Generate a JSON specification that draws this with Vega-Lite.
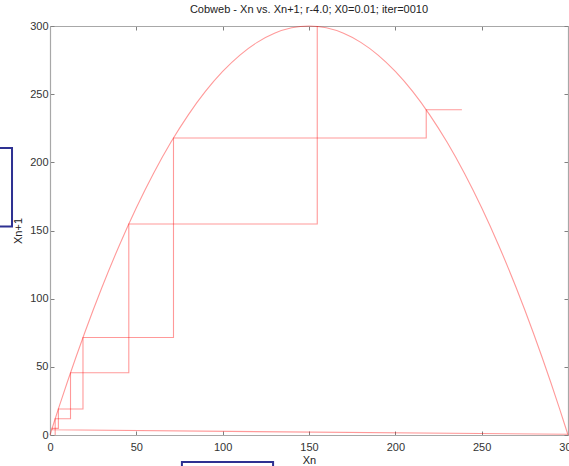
{
  "$schema": "https://vega.github.io/schema/vega-lite/v6.json",
  "width": 518,
  "height": 409,
  "autosize": {"type": "none"},
  "padding": {"left": 50, "top": 26, "right": 1, "bottom": 31},
  "background": "white",
  "config": {
    "view": {"stroke": null},
    "font": "Liberation Sans",
    "axis": {
      "grid": false,
      "domainColor": "#a8a8a8",
      "domainWidth": 1.2,
      "tickColor": "#808080",
      "tickSize": -4,
      "labelFont": "Liberation Sans",
      "labelFontSize": 11,
      "labelColor": "#333333",
      "titleFont": "Liberation Sans",
      "titleFontSize": 11,
      "titleFontWeight": "normal",
      "titleColor": "#222222"
    }
  },
  "title": {
    "text": "Cobweb - Xn vs. Xn+1; r-4.0; X0=0.01; iter=0010",
    "fontSize": 11,
    "fontWeight": "normal",
    "font": "Liberation Sans",
    "color": "#222222",
    "offset": 5
  },
  "datasets": {
    "curve": [
      {"x": 0, "y": 0}, {"x": 2.5, "y": 9.917}, {"x": 5, "y": 19.667}, {"x": 10, "y": 38.667},
      {"x": 20, "y": 74.667}, {"x": 30, "y": 108}, {"x": 40, "y": 138.667}, {"x": 50, "y": 166.667},
      {"x": 60, "y": 192}, {"x": 70, "y": 214.667}, {"x": 80, "y": 234.667}, {"x": 90, "y": 252},
      {"x": 100, "y": 266.667}, {"x": 110, "y": 278.667}, {"x": 120, "y": 288}, {"x": 130, "y": 294.667},
      {"x": 140, "y": 298.667}, {"x": 150, "y": 300}, {"x": 160, "y": 298.667}, {"x": 170, "y": 294.667},
      {"x": 180, "y": 288}, {"x": 190, "y": 278.667}, {"x": 200, "y": 266.667}, {"x": 210, "y": 252},
      {"x": 220, "y": 234.667}, {"x": 230, "y": 214.667}, {"x": 240, "y": 192}, {"x": 250, "y": 166.667},
      {"x": 260, "y": 138.667}, {"x": 270, "y": 108}, {"x": 280, "y": 74.667}, {"x": 290, "y": 38.667},
      {"x": 295, "y": 19.667}, {"x": 297.5, "y": 9.917}, {"x": 300, "y": 0}
    ],
    "cobweb": [
      {"seg": "a", "i": 1, "x": 3, "y": 0},
      {"seg": "a", "i": 2, "x": 3, "y": 11.88},
      {"seg": "a", "i": 3, "x": 11.88, "y": 11.88},
      {"seg": "a", "i": 4, "x": 11.88, "y": 45.64},
      {"seg": "a", "i": 5, "x": 45.64, "y": 45.64},
      {"seg": "a", "i": 6, "x": 45.64, "y": 154.78},
      {"seg": "a", "i": 7, "x": 154.78, "y": 154.78},
      {"seg": "a", "i": 8, "x": 154.78, "y": 300},
      {"seg": "b", "i": 10, "x": 299.7, "y": 0.5},
      {"seg": "b", "i": 11, "x": 1.22, "y": 3.8},
      {"seg": "b", "i": 12, "x": 1.22, "y": 4.85},
      {"seg": "b", "i": 13, "x": 4.85, "y": 4.85},
      {"seg": "b", "i": 14, "x": 4.85, "y": 19.1},
      {"seg": "b", "i": 15, "x": 19.1, "y": 19.1},
      {"seg": "b", "i": 16, "x": 19.1, "y": 71.52},
      {"seg": "b", "i": 17, "x": 71.52, "y": 71.52},
      {"seg": "b", "i": 18, "x": 71.52, "y": 217.89},
      {"seg": "b", "i": 19, "x": 217.89, "y": 217.89},
      {"seg": "b", "i": 20, "x": 217.89, "y": 238.55},
      {"seg": "b", "i": 21, "x": 238.55, "y": 238.55}
    ],
    "boxes": [
      {"x1": -30, "x2": -22.0, "y1": 210.5, "y2": 153.0},
      {"x1": 76.4, "x2": 129.2, "y1": -19.8, "y2": -26}
    ]
  },
  "layer": [
    {
      "data": {"name": "curve"},
      "mark": {"type": "line", "color": "#ff0000", "opacity": 0.4, "strokeWidth": 1.1, "interpolate": "monotone"},
      "encoding": {
        "x": {"field": "x", "type": "quantitative", "scale": {"domain": [0, 300], "nice": false},
              "axis": {"orient": "bottom", "values": [0, 50, 100, 150, 200, 250, 300], "title": "Xn", "labelPadding": 10, "titlePadding": 2, "labelFlush": false}},
        "y": {"field": "y", "type": "quantitative", "scale": {"domain": [0, 300], "nice": false},
              "axis": {"orient": "left", "values": [0, 50, 100, 150, 200, 250, 300], "title": "Xn+1", "labelPadding": 6, "titlePadding": 6, "labelFlush": false}}
      }
    },
    {
      "data": {"name": "cobweb"},
      "mark": {"type": "line", "color": "#ff0000", "opacity": 0.4, "strokeWidth": 1.1},
      "encoding": {
        "x": {"field": "x", "type": "quantitative", "axis": {"orient": "top", "values": [0, 50, 100, 150, 200, 250, 300], "labels": false, "title": null}},
        "y": {"field": "y", "type": "quantitative", "axis": {"orient": "right", "values": [0, 50, 100, 150, 200, 250, 300], "labels": false, "title": null}},
        "detail": {"field": "seg", "type": "nominal"},
        "order": {"field": "i", "type": "quantitative"}
      }
    },
    {
      "data": {"name": "boxes"},
      "mark": {"type": "rect", "fill": null, "fillOpacity": 0, "stroke": "#2e3192", "strokeWidth": 2, "clip": false},
      "encoding": {
        "x": {"field": "x1", "type": "quantitative", "axis": null},
        "x2": {"field": "x2"},
        "y": {"field": "y1", "type": "quantitative", "axis": null},
        "y2": {"field": "y2"}
      }
    }
  ],
  "resolve": {"axis": {"x": "independent", "y": "independent"}}
}
